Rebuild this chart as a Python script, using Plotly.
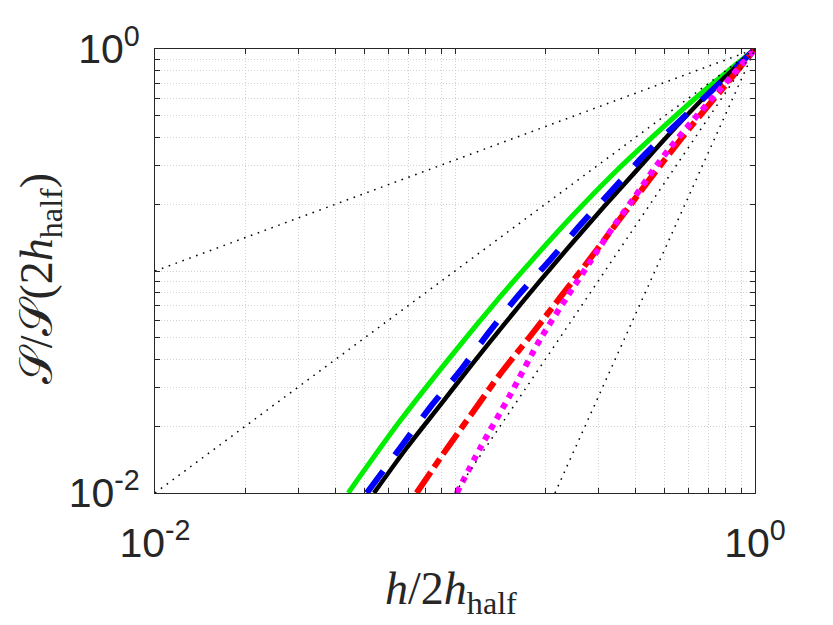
import plotly.graph_objects as go

# ---- data (log-log) ----
green_x = [0.04406, 0.06561, 0.09616, 0.1413, 0.1824, 0.2512, 0.3412, 0.4395, 0.6412, 1.0]
green_y = [0.01, 0.02113, 0.04074, 0.07638, 0.1135, 0.1824, 0.2786, 0.3846, 0.6095, 1.0]

black_x = [0.05370, 0.06918, 0.08913, 0.1148, 0.1479, 0.1905, 0.2455, 0.3162, 0.4074, 0.5129, 0.6918, 1.0]
black_y = [0.01, 0.01603, 0.02483, 0.03846, 0.05888, 0.08913, 0.1334, 0.1972, 0.2884, 0.4074, 0.6237, 1.0]

blue_x = [0.05082, 0.06637, 0.08260, 0.1040, 0.1291, 0.1626, 0.2075, 0.2642, 0.3373, 0.4295, 0.5546, 0.7447, 1.0]
blue_y = [0.01, 0.01629, 0.02432, 0.03548, 0.05248, 0.07762, 0.1122, 0.1637, 0.2344, 0.3350, 0.4667, 0.6808, 1.0]

red_x = [0.07447, 0.09120, 0.1148, 0.1413, 0.1778, 0.2239, 0.2818, 0.3548, 0.4467, 0.6026, 0.7943, 1.0]
red_y = [0.01, 0.01496, 0.02317, 0.03428, 0.05070, 0.07586, 0.1135, 0.1718, 0.2600, 0.4365, 0.6839, 1.0]

magenta_x = [0.1014, 0.1211, 0.1524, 0.1919, 0.2355, 0.2818, 0.3373, 0.3981, 0.4581, 0.5212, 0.5916, 0.8356, 1.0]
magenta_y = [0.01, 0.01585, 0.02754, 0.04898, 0.07586, 0.1096, 0.1585, 0.2163, 0.2851, 0.3589, 0.4416, 0.7551, 1.0]

# guide lines (power laws through (1,1)): start points read at the axes edges
guide_start_x = [0.01, 0.01, 0.1, 0.2154]
guide_start_y = [0.1, 0.01, 0.01, 0.01]

tick_vals = [0.01, 1.0]
tick_text = ["10<sup>-2</sup>", "10<sup>0</sup>"]
minor_vals = [0.02, 0.03, 0.04, 0.05, 0.06, 0.07, 0.08, 0.09, 0.1,
              0.2, 0.3, 0.4, 0.5, 0.6, 0.7, 0.8, 0.9]

fig = go.Figure()

curves = [
    (green_x, green_y, "#00ee00", 5, "solid"),
    (black_x, black_y, "#000000", 4.5, "solid"),
    (blue_x, blue_y, "#0000ff", 6, "27px,20px"),
    (red_x, red_y, "#ff0000", 6, "25px,6px,10px,6px"),
    (magenta_x, magenta_y, "#ff00ff", 6, "6px,6px"),
]
for xs, ys, col, w, dash in curves:
    fig.add_trace(go.Scatter(x=xs, y=ys, mode="lines",
                             line=dict(color=col, width=w, dash=dash, shape="spline", smoothing=0.8),
                             showlegend=False, hoverinfo="skip"))

for sx, sy in zip(guide_start_x, guide_start_y):
    fig.add_trace(go.Scatter(x=[sx, 1.0], y=[sy, 1.0], mode="lines",
                             line=dict(color="#000000", width=1.5, dash="1.6px,5.7px"),
                             showlegend=False, hoverinfo="skip"))

tickfont = dict(family="Liberation Sans Narrow, Liberation Sans, Arial, sans-serif", size=41, color="#262626")
axis_common = dict(
    type="log",
    range=[-2, 0],
    tickmode="array",
    tickvals=tick_vals,
    ticktext=tick_text,
    ticks="inside",
    ticklen=8,
    tickcolor="#262626",
    showline=True,
    linecolor="#262626",
    linewidth=1,
    mirror="allticks",
    showgrid=False,
    zeroline=False,
    tickfont=tickfont,
    minor=dict(tickmode="array", tickvals=minor_vals, ticks="inside", ticklen=5,
               tickcolor="#262626", showgrid=True, gridcolor="#d2d2d2",
               griddash="1px,2px", gridwidth=1),
)

fig.update_xaxes(**axis_common, ticklabelstandoff=14)
fig.update_yaxes(**axis_common, ticklabelstandoff=6)

fig.add_annotation(text="<i>h</i>/2<i>h</i><sub>half</sub>", xref="paper", yref="paper",
                   x=0.493, y=-0.222, showarrow=False, xanchor="center", yanchor="middle",
                   font=dict(family="Liberation Serif, DejaVu Serif, serif", size=46, color="#262626"))
fig.add_annotation(text="𝒮/𝒮(2<i>h</i><sub>half</sub>)", xref="paper", yref="paper",
                   x=-0.192, y=0.483, textangle=-90, showarrow=False, xanchor="center", yanchor="middle",
                   font=dict(family="Liberation Serif, DejaVu Serif, serif", size=46, color="#262626"))

# page body adds an 8px offset, so the figure is 8px smaller and margins shifted accordingly
fig.update_layout(
    width=825, height=617,
    margin=dict(l=147, r=78, t=38, b=132),
    plot_bgcolor="white",
    paper_bgcolor="white",
)

fig.write_html("out.html")
